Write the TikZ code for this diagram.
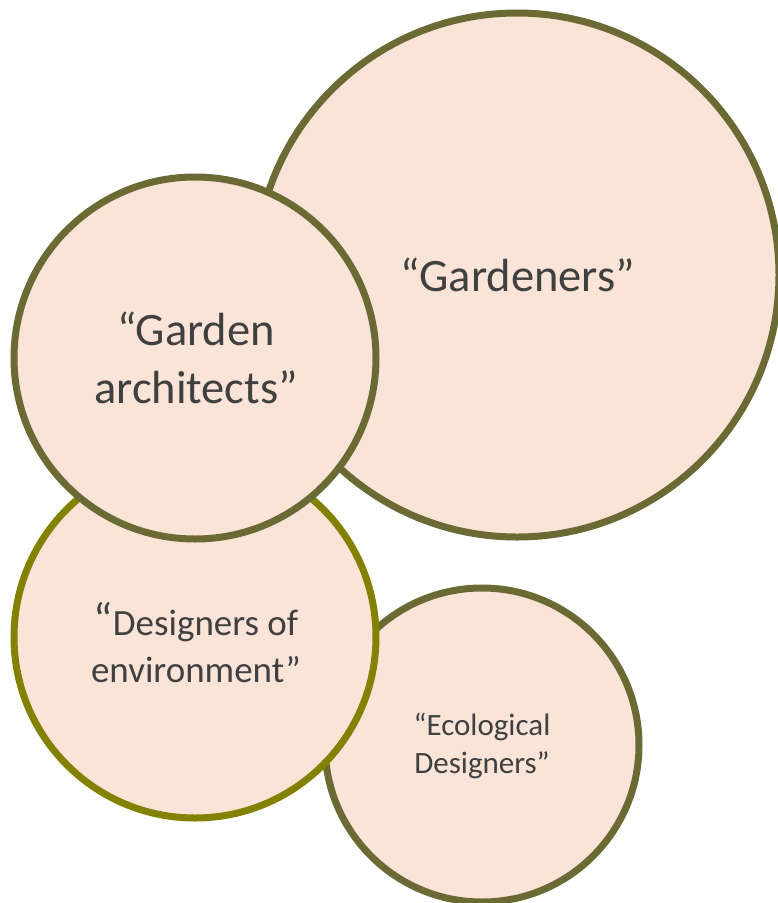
\documentclass[tikz,border=0pt]{standalone}
\usepackage{fontspec}
\setmainfont{Carlito}
\definecolor{fillc}{HTML}{FAE4D8}
\definecolor{edgec}{HTML}{6B6A35}
\definecolor{olivec}{HTML}{838200}
\definecolor{textc}{HTML}{404040}
\begin{document}
\begin{tikzpicture}[x=1pt,y=-1pt,
  bubble/.style={circle,draw=edgec,fill=fillc,line width=7pt,inner sep=0pt,text=textc,align=center}]
\useasboundingbox (0,0) rectangle (778,903);
\node[bubble,minimum size=524pt] (gard) at (517,275) {};
\node[text=textc,font=\fontsize{46.5}{56}\selectfont] (gardt) at (518,275) {“Gardeners”};
\node[bubble,minimum size=314pt] (eco) at (482,745) {};
\node[text=textc,align=center,font=\fontsize{31}{38}\selectfont] (ecot) at (482,746) {“Ecological\\Designers”};
\node[bubble,draw=olivec,minimum size=362pt] (des) at (195,637) {};
\node[text=textc,align=center,font=\fontsize{37}{47}\selectfont] (dest) at (196,643) {{\fontsize{46}{47}\selectfont“}Designers of\\environment”};
\node[bubble,minimum size=362pt] (arch) at (195,358) {};
\node[text=textc,align=center,font=\fontsize{46.5}{58}\selectfont] (archt) at (196,358) {“Garden\\architects”};
\end{tikzpicture}
\end{document}
